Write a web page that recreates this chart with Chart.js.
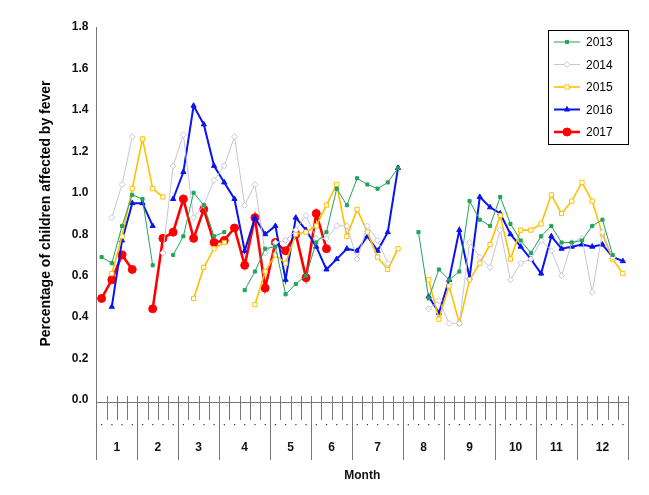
<!DOCTYPE html>
<html>
<head>
<meta charset="utf-8">
<script src="https://cdn.jsdelivr.net/npm/chart.js@4.4.1/dist/chart.umd.min.js"></script>
<style>
  html, body { margin: 0; padding: 0; background: #fff; }
  #wrap { width: 649px; height: 495px; position: relative; }
</style>
</head>
<body>
<div id="wrap"><canvas id="feverChart"></canvas></div>
<script>
// weeks per month (52 weeks)
const months = ["1", "2", "3", "4", "5", "6", "7", "8", "9", "10", "11", "12"];
const weeksPerMonth = [4, 4, 4, 5, 4, 4, 5, 4, 5, 4, 4, 5];
const weeks = Array.from({ length: 52 }, (_, i) => String(i + 1));
const yTicks = [0, 0.2, 0.4, 0.6, 0.8, 1.0, 1.2, 1.4, 1.6, 1.8];

const n = null;
const y2013 = [0.69,0.66,0.84,0.99,0.97,0.65,n,0.70,0.79,1.00,0.94,0.79,0.81,n,0.53,0.62,0.73,0.74,0.51,0.56,0.60,0.76,0.81,1.02,0.94,1.07,1.04,1.02,1.05,1.12,
  n,0.81,0.49,0.63,0.58,0.62,0.96,0.87,0.84,0.98,0.85,0.77,0.71,0.79,0.84,0.76,0.76,0.77,0.84,0.87,0.70,n];
const y2014 = [n,0.88,1.04,1.27,n,n,0.71,1.13,1.28,0.88,0.94,1.06,1.13,1.27,0.94,1.04,0.71,0.76,0.77,0.82,0.89,0.78,0.78,0.84,0.84,0.68,0.84,0.77,0.66,n,
  n,n,0.44,0.48,0.37,0.37,0.76,0.69,0.64,0.82,0.58,0.66,0.68,0.77,0.72,0.60,0.76,0.78,0.52,0.81,0.69,n];
const y2015 = [n,0.61,0.79,1.02,1.26,1.02,0.98,n,n,0.49,0.64,0.73,0.76,n,n,0.46,0.62,0.70,0.66,0.80,0.81,0.84,0.94,1.04,0.79,0.92,0.81,0.69,0.63,0.73,
  n,n,0.58,0.39,0.55,0.37,0.58,0.66,0.75,0.89,0.68,0.82,0.82,0.85,0.99,0.90,0.96,1.05,0.96,0.80,0.68,0.61];
const y2016 = [n,0.45,0.77,0.95,0.95,0.84,n,0.97,1.10,1.42,1.33,1.13,1.05,0.97,0.72,0.88,0.80,0.84,0.58,0.88,0.82,0.74,0.63,0.68,0.73,0.72,0.79,0.72,0.81,1.12,
  n,n,0.50,0.42,0.58,0.82,0.59,0.98,0.93,0.90,0.80,0.74,0.68,0.61,0.79,0.73,0.74,0.75,0.74,0.75,0.69,0.67];
const y2017 = [0.49,0.58,0.70,0.63,n,0.44,0.78,0.81,0.97,0.78,0.92,0.76,0.77,0.83,0.65,0.88,0.54,0.76,0.72,0.80,0.59,0.90,0.73];

const seriesStyle = [
  { label: "2013", data: y2013, color: "#22a55a", pointStyle: "rect", radius: 2.2, fill: "#22a55a", width: 1 },
  { label: "2014", data: y2014, color: "#c9c2dc", pointStyle: "rectRot", radius: 3, fill: "#fff", width: 1 },
  { label: "2015", data: y2015, color: "#ffc000", pointStyle: "rect", radius: 3, fill: "#fff", width: 1.6 },
  { label: "2016", data: y2016, color: "#0a14f0", pointStyle: "triangle", radius: 3, fill: "#0a14f0", width: 2 },
  { label: "2017", data: y2017, color: "#ff0000", pointStyle: "circle", radius: 4, fill: "#ff0000", width: 2.6 }
];

// ruler-like month axis below the plot + boxed legend
const decor = {
  id: "decor",
  afterDraw(c) {
    const ctx = c.ctx, a = c.chartArea, xs = c.scales.x;
    const bw = (a.right - a.left) / weeks.length;
    ctx.save();
    ctx.strokeStyle = "#777";
    ctx.lineWidth = 1;
    ctx.beginPath();
    ctx.moveTo(a.left, a.bottom + 2.5); ctx.lineTo(a.right, a.bottom + 2.5);
    ctx.stroke();
    ctx.fillStyle = "#333";
    for (let i = 0; i <= weeks.length; i++) {
      const x = Math.round(a.left + i * bw) + 0.5;
      ctx.beginPath(); ctx.moveTo(x, a.bottom - 4); ctx.lineTo(x, a.bottom + 20); ctx.stroke();
      if (i < weeks.length) {
        ctx.fillRect(xs.getPixelForValue(i) - 0.5, a.bottom + 24, 1.2, 1.2);
      }
    }
    let w = 0;
    ctx.font = "bold 12px Arial, 'Liberation Sans', sans-serif";
    ctx.textAlign = "center";
    ctx.textBaseline = "middle";
    for (let m = 0; m <= months.length; m++) {
      const x = Math.round(a.left + w * bw) + 0.5;
      ctx.beginPath(); ctx.moveTo(x, a.bottom + 20); ctx.lineTo(x, a.bottom + 60); ctx.stroke();
      if (m < months.length) {
        ctx.fillStyle = "#111";
        ctx.fillText(months[m], a.left + (w + weeksPerMonth[m] / 2) * bw, a.bottom + 48);
        w += weeksPerMonth[m];
      }
    }
    ctx.fillText("Month", (a.left + a.right) / 2, a.bottom + 76);

    // legend
    const lx = 548, ly = 30, lw = 80, lh = 114;
    ctx.strokeStyle = "#000";
    ctx.strokeRect(lx + 0.5, ly + 0.5, lw, lh);
    ctx.textAlign = "left";
    ctx.font = "12px Arial, 'Liberation Sans', sans-serif";
    seriesStyle.forEach((s, i) => {
      const yy = ly + 12 + i * 22.5;
      ctx.strokeStyle = s.color; ctx.lineWidth = s.width;
      ctx.beginPath(); ctx.moveTo(lx + 6, yy); ctx.lineTo(lx + 32, yy); ctx.stroke();
      ctx.fillStyle = s.fill; ctx.strokeStyle = s.color; ctx.lineWidth = 1;
      Chart.helpers.drawPoint(ctx, { pointStyle: s.pointStyle, radius: s.radius, borderWidth: 1 }, lx + 19, yy);
      ctx.fillStyle = "#000";
      ctx.fillText(s.label, lx + 38, yy + 1);
    });
    ctx.restore();
  }
};

new Chart(document.getElementById("feverChart"), {
  type: "line",
  data: {
    labels: weeks,
    datasets: seriesStyle.map(s => ({
      label: s.label,
      data: s.data,
      borderColor: s.color,
      backgroundColor: s.fill,
      pointBorderColor: s.color,
      pointBackgroundColor: s.fill,
      pointStyle: s.pointStyle,
      pointRadius: s.radius,
      pointBorderWidth: 1,
      borderWidth: s.width,
      tension: 0,
      spanGaps: false
    }))
  },
  options: {
    responsive: true,
    maintainAspectRatio: false,
    animation: false,
    layout: { padding: { left: 38, right: 21, top: 27, bottom: 95 } },
    plugins: { legend: { display: false }, tooltip: { enabled: false } },
    scales: {
      x: { display: false, offset: true },
      y: {
        min: 0, max: 1.8,
        afterBuildTicks: ax => { ax.ticks = yTicks.map(v => ({ value: v })); },
        grid: { display: false, drawTicks: true, tickLength: 5, tickColor: "#777" },
        border: { color: "#777" },
        ticks: {
          color: "#111",
          font: { size: 12, weight: "bold", family: "Arial, 'Liberation Sans', sans-serif" },
          callback: v => Number(v).toFixed(1)
        },
        title: {
          display: true,
          text: "Percentage of children affected by fever",
          color: "#000",
          padding: { top: 0, bottom: 14 },
          font: { size: 14, weight: "bold", family: "Arial, 'Liberation Sans', sans-serif" }
        }
      }
    }
  },
  plugins: [decor]
});
</script>
</body>
</html>
